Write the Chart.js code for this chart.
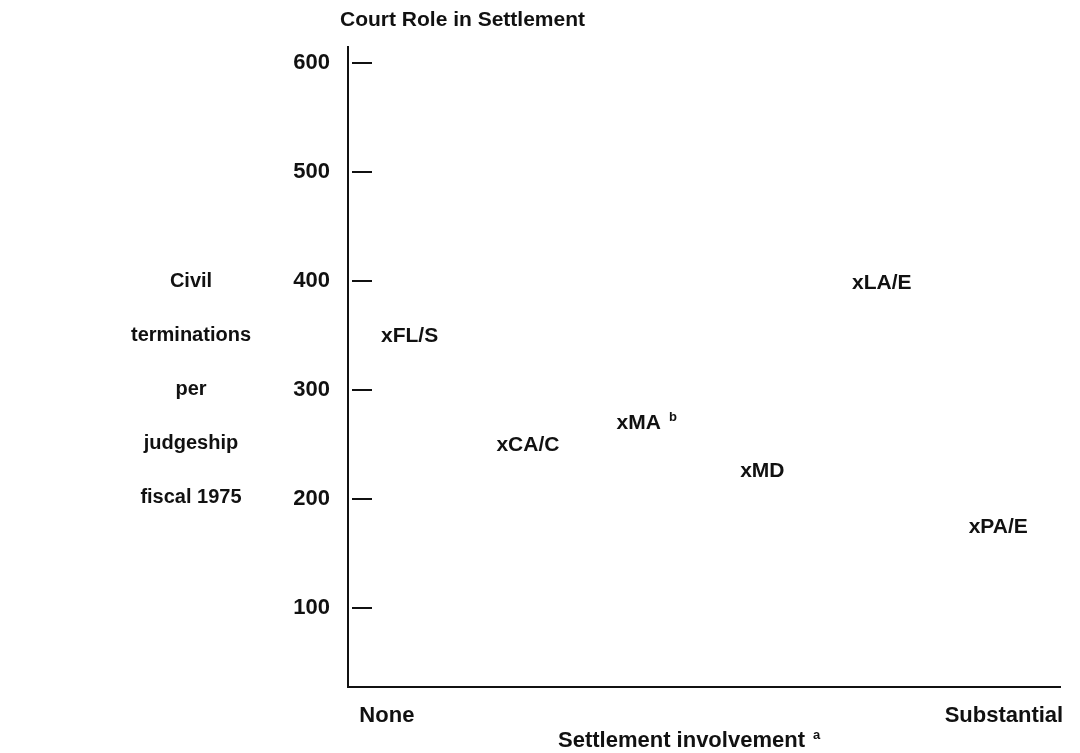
<!DOCTYPE html>
<html>
<head>
<meta charset="utf-8">
<script src="https://cdn.jsdelivr.net/npm/chart.js@4.4.1/dist/chart.umd.min.js"></script>
<style>
  html, body { margin: 0; padding: 0; background: #fff; }
</style>
</head>
<body>
<canvas id="chart" width="1080" height="753"></canvas>
<script>
// --- DATA ---
const districts = ["FL/S", "CA/C", "MA", "MD", "LA/E", "PA/E"];
const involvement = [1, 1.98, 3, 4.05, 5, 5.99];
const terminations = [349, 249, 269, 225, 398, 174];
const notes = ["", "", "b", "", "", ""];
const yTicks = [100, 200, 300, 400, 500, 600];
const xTickValues = [1, 6.24];
const xTickLabels = ["None", "Substantial"];
const yTitleLines = ["Civil", "terminations", "per", "judgeship", "fiscal 1975"];

const ink = "#111";
const fontFamily = "'Liberation Sans', Arial, sans-serif";

// free text, inner tick marks and the "x" labels
const textPlugin = {
  id: "textPlugin",
  afterDraw(chart) {
    const { ctx, chartArea, scales } = chart;
    const ys = scales.y;
    ctx.save();
    ctx.fillStyle = ink;
    ctx.strokeStyle = ink;

    // short ticks inside the y axis
    ctx.lineWidth = 2;
    yTicks.forEach((v) => {
      const y = Math.round(ys.getPixelForValue(v));
      ctx.beginPath();
      ctx.moveTo(chartArea.left + 4, y);
      ctx.lineTo(chartArea.left + 24, y);
      ctx.stroke();
    });

    // point labels, the "x" sits on the value
    ctx.font = "bold 21px " + fontFamily;
    ctx.textBaseline = "middle";
    ctx.textAlign = "left";
    const xw = ctx.measureText("x").width;
    chart.getDatasetMeta(0).data.forEach((pt, i) => {
      const txt = "x" + districts[i];
      const left = pt.x - xw / 2;
      ctx.font = "bold 21px " + fontFamily;
      ctx.fillText(txt, left, pt.y);
      if (notes[i]) {
        const w = ctx.measureText(txt).width;
        ctx.font = "bold 13px " + fontFamily;
        ctx.fillText(notes[i], left + w + 8, pt.y - 6);
      }
    });

    // title
    ctx.font = "bold 21px " + fontFamily;
    ctx.fillText("Court Role in Settlement", 340, 20);

    // y title, stacked lines
    ctx.textAlign = "center";
    ctx.font = "bold 20px " + fontFamily;
    const lineYs = [281, 335, 389, 443, 497];
    yTitleLines.forEach((t, i) => ctx.fillText(t, 191, lineYs[i]));

    // x title
    ctx.font = "bold 22px " + fontFamily;
    ctx.textAlign = "left";
    const xt = "Settlement involvement";
    ctx.fillText(xt, 558, 741);
    const xtw = ctx.measureText(xt).width;
    ctx.font = "bold 13px " + fontFamily;
    ctx.fillText("a", 558 + xtw + 8, 735);
    ctx.restore();
  },
};

new Chart(document.getElementById("chart"), {
  type: "scatter",
  data: {
    datasets: [
      {
        data: involvement.map((x, i) => ({ x: x, y: terminations[i] })),
        pointRadius: 0,
        pointHoverRadius: 0,
      },
    ],
  },
  options: {
    responsive: false,
    animation: false,
    layout: { padding: { top: 47, right: 10, left: 0, bottom: 0 } },
    plugins: {
      legend: { display: false },
      tooltip: { enabled: false },
      title: { display: false },
    },
    scales: {
      x: {
        type: "linear",
        min: 0.67,
        max: 6.72,
        grid: { display: false, drawTicks: false },
        border: { display: true, color: ink, width: 2 },
        afterBuildTicks: (s) => {
          s.ticks = xTickValues.map((v) => ({ value: v }));
        },
        afterFit: (s) => {
          s.height = 66;
        },
        ticks: {
          autoSkip: false,
          maxRotation: 0,
          padding: 16,
          color: ink,
          font: { family: fontFamily, size: 22, weight: "bold" },
          callback: (v, i) => xTickLabels[i],
        },
      },
      y: {
        min: 27,
        max: 615,
        grid: { display: false, drawTicks: false },
        border: { display: true, color: ink, width: 2 },
        afterBuildTicks: (s) => {
          s.ticks = yTicks.map((v) => ({ value: v }));
        },
        afterFit: (s) => {
          s.width = 348;
        },
        ticks: {
          padding: 18,
          color: ink,
          font: { family: fontFamily, size: 22, weight: "bold" },
          callback: (v) => String(v),
        },
      },
    },
  },
  plugins: [textPlugin],
});
</script>
</body>
</html>
